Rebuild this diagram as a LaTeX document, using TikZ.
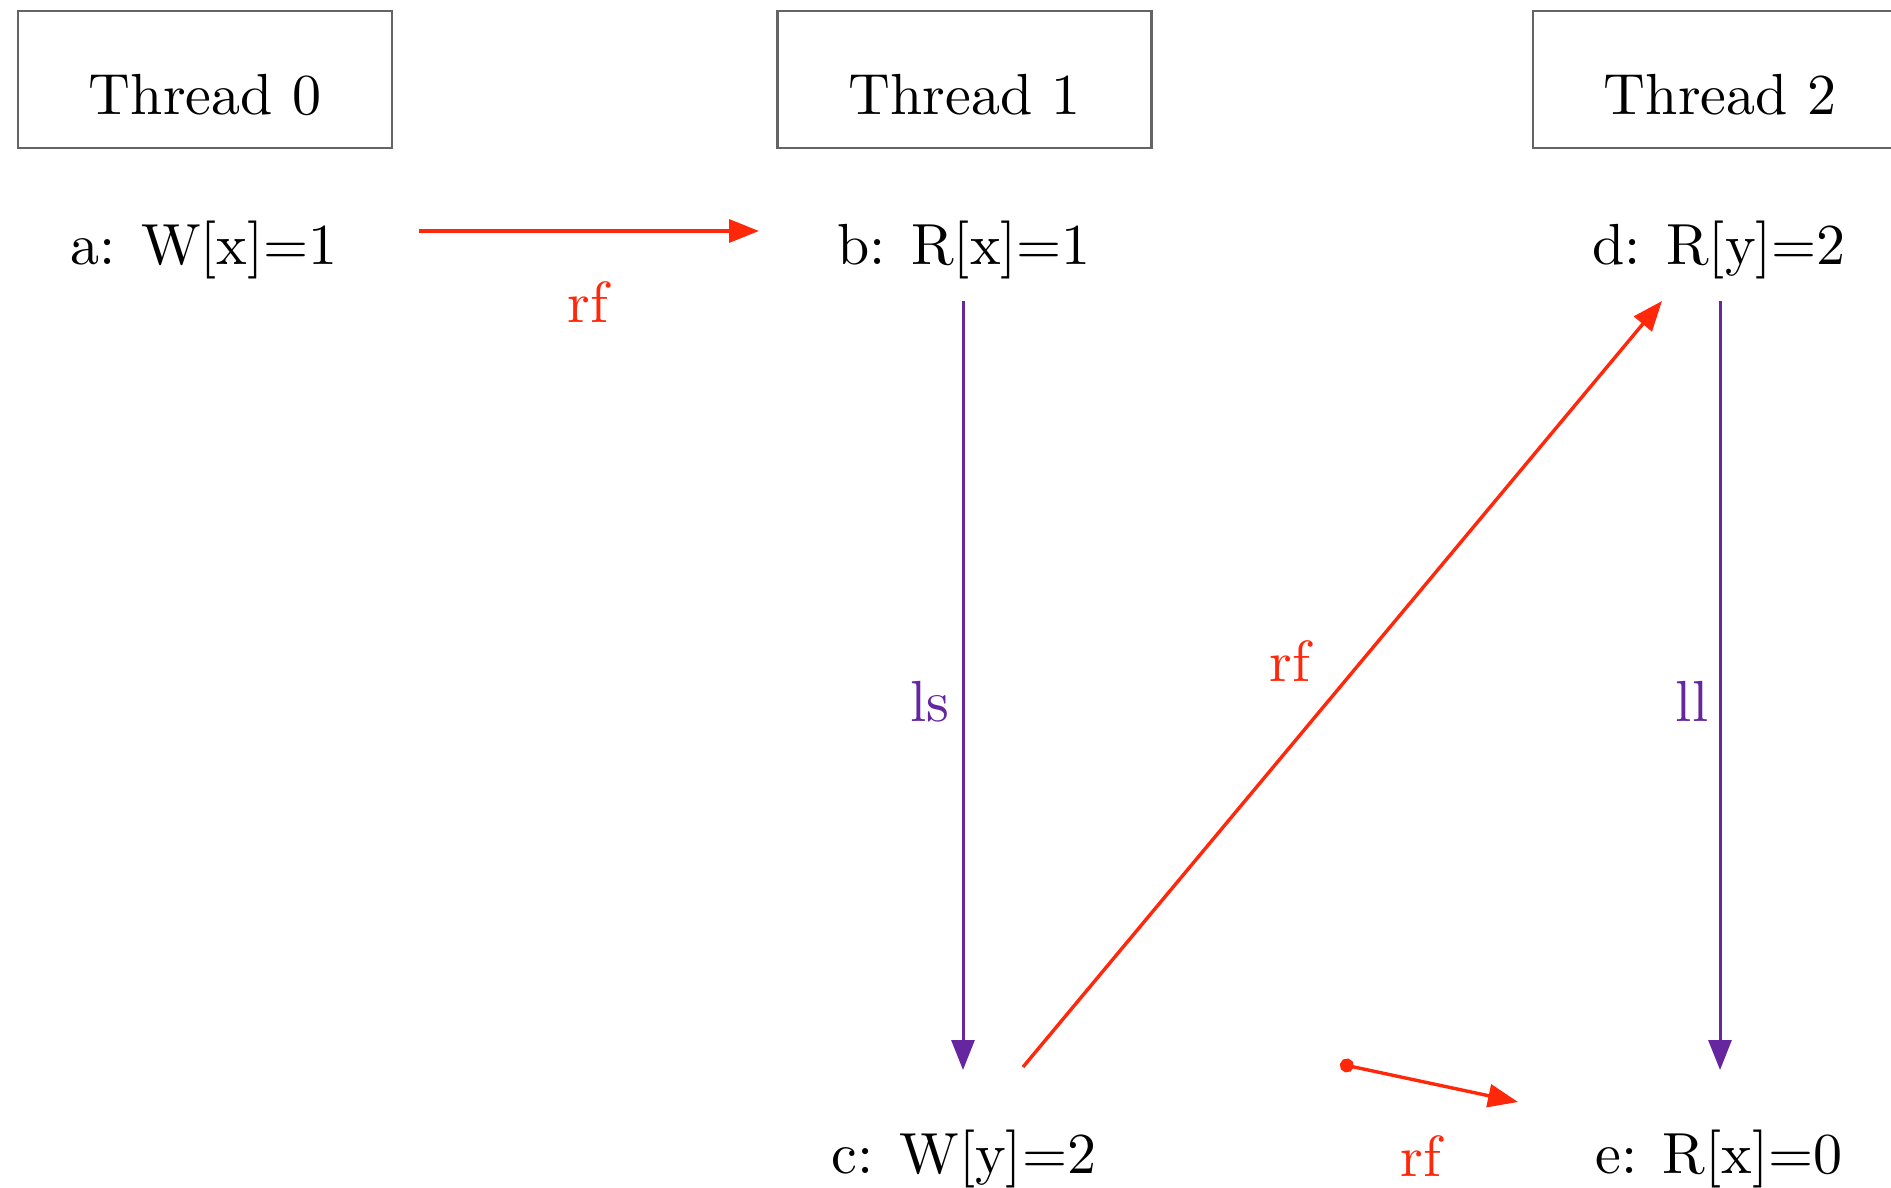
\documentclass[tikz,border=0pt]{standalone}
\usepackage{fontspec}
\setmainfont{lmroman10-regular.otf}
\usetikzlibrary{arrows.meta,calc}
\definecolor{rfred}{RGB}{255,40,10}
\definecolor{orderpurple}{RGB}{102,38,160}
\definecolor{boxgray}{RGB}{100,100,100}
\begin{document}
\begin{tikzpicture}[x=0.5pt,y=-0.5pt,
  every node/.style={font=\fontsize{29}{35}\selectfont, inner sep=0pt},
  threadbox/.style={draw=boxgray, line width=1.1pt, minimum width=187pt, text height=52pt, text depth=16.5pt, anchor=base},
  ev/.style={anchor=base},
  rfarrow/.style={draw=rfred, line width=1.7pt, -{Triangle[length=15pt,width=11.5pt]}},
  poarrow/.style={draw=orderpurple, line width=1.5pt, -{Triangle[length=15pt,width=11.5pt]}},
  rflabel/.style={anchor=base, text=rfred},
  polabel/.style={anchor=base, text=orderpurple}]
\useasboundingbox (0,0) rectangle (1891,1188);
\node[threadbox] (t0) at (205,115) {Thread 0};
\node[threadbox] (t1) at (964.5,115) {Thread 1};
\node[threadbox] (t2) at (1720,115) {Thread 2};
\node[ev] (a) at (204,264) {a: W[x]=1};
\node[ev] (b) at (964,264) {b: R[x]=1};
\node[ev] (d) at (1719,264) {d: R[y]=2};
\node[ev] (c) at (964,1173) {c: W[y]=2};
\node[ev] (e) at (1719,1173) {e: R[x]=0};
\draw[rfarrow] ($(a.base)+(215,-33)$) -- ($(b.base)+(-205,-33)$);
\draw[poarrow] ($(b.base)+(-1,37)$) -- ($(c.base)+(-1,-103)$);
\draw[rfarrow] ($(c.base)+(59,-106)$) -- ($(d.base)+(-57,37)$);
\draw[poarrow] ($(d.base)+(1,37)$) -- ($(e.base)+(1,-103)$);
\coordinate (src) at (1340,1064);
\draw[rfarrow, {Circle[length=7pt]}-{Triangle[length=15pt,width=11.5pt]}] (src) -- ($(e.base)+(-201,-71)$);
\node[rflabel] (rfab) at (588,322) {rf};
\node[polabel] (lsbc) at (930,721) {ls};
\node[rflabel] (rfcd) at (1290,681) {rf};
\node[polabel] (llde) at (1692,721) {ll};
\node[rflabel] (rfe) at (1421,1176) {rf};
\end{tikzpicture}
\end{document}
